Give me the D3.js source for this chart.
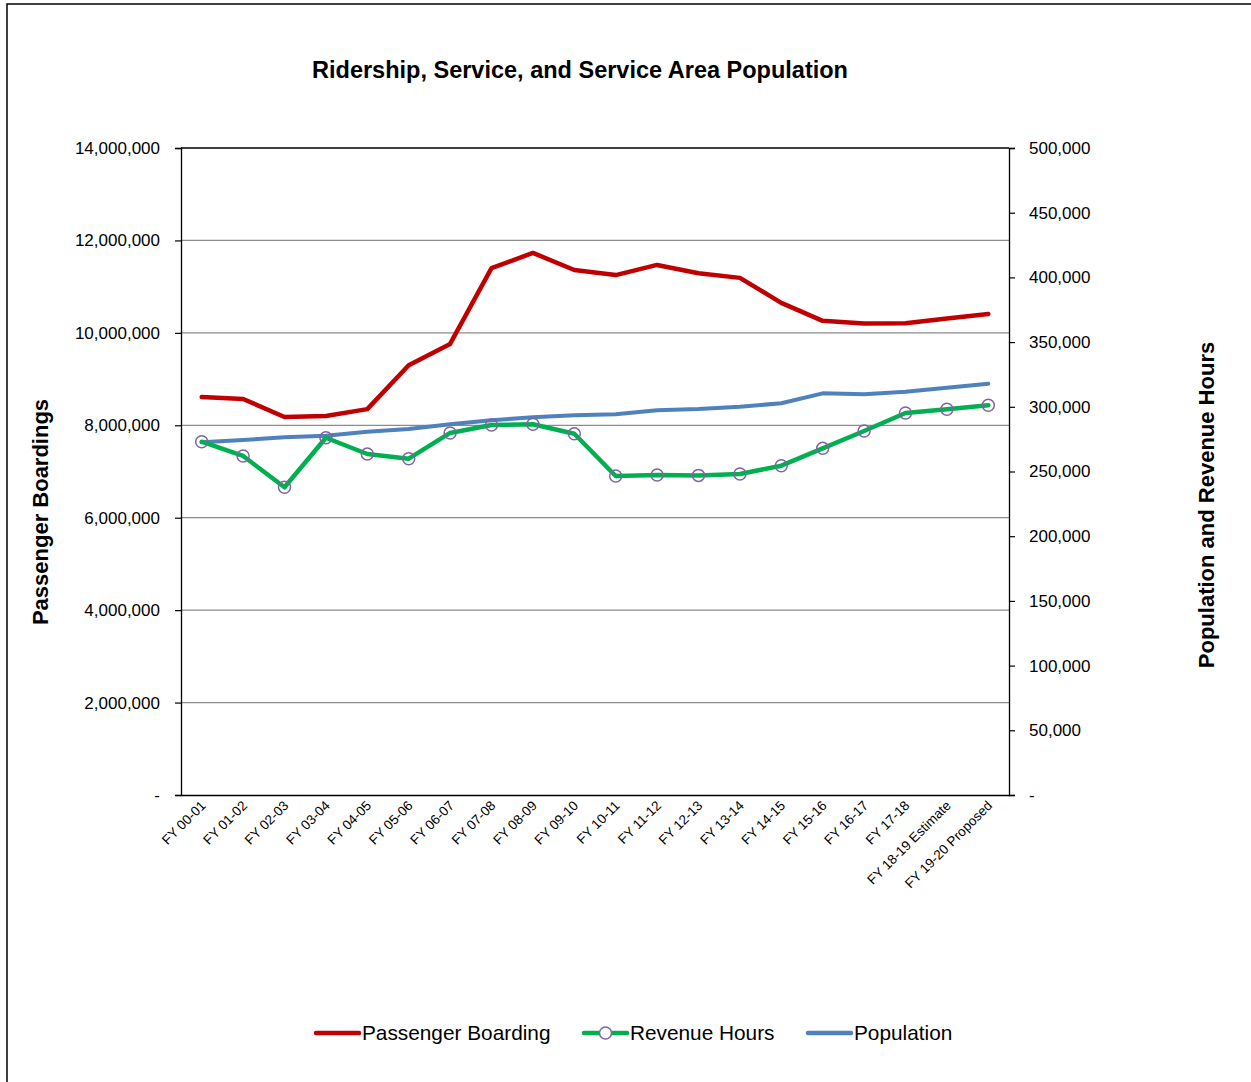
<!DOCTYPE html>
<html>
<head>
<meta charset="utf-8">
<script src="https://cdn.jsdelivr.net/npm/d3@7"></script>
<style>
  body { margin: 0; background: #fff; }
  text { font-family: "Liberation Sans", Arial, sans-serif; }
</style>
</head>
<body>
<div id="chart"></div>
<script>
var years = ["FY 00-01", "FY 01-02", "FY 02-03", "FY 03-04", "FY 04-05", "FY 05-06", "FY 06-07",
  "FY 07-08", "FY 08-09", "FY 09-10", "FY 10-11", "FY 11-12", "FY 12-13", "FY 13-14", "FY 14-15",
  "FY 15-16", "FY 16-17", "FY 17-18", "FY 18-19 Estimate", "FY 19-20 Proposed"];

var boardings = [8610000, 8570000, 8180000, 8200000, 8350000, 9300000, 9760000, 11400000, 11730000, 11360000,
  11250000, 11470000, 11290000, 11190000, 10650000, 10260000, 10200000, 10210000, 10310000, 10410000];

var revenueHours = [273000, 262000, 237800, 276100, 263500, 259900, 279800, 285900, 286500, 279200,
  246500, 247300, 247000, 248100, 254500, 267900, 281300, 295200, 298100, 301200];

var population = [272600, 274300, 276400, 277700, 280800, 282800, 286500, 289600, 291900, 293400,
  294200, 297300, 298300, 300100, 302700, 310400, 309700, 311700, 314800, 317900];

var leftTicks = [0, 2000000, 4000000, 6000000, 8000000, 10000000, 12000000, 14000000];
var rightTicks = [0, 50000, 100000, 150000, 200000, 250000, 300000, 350000, 400000, 450000, 500000];

var W = 1251, H = 1082;
var plot = {left: 181, right: 1009, top: 148, bottom: 795};

var svg = d3.select("#chart").append("svg")
  .attr("width", W)
  .attr("height", H);

// outer frame
svg.append("rect")
  .attr("x", 7).attr("y", 4)
  .attr("width", W + 20).attr("height", H + 20)
  .attr("fill", "#fff")
  .attr("stroke", "#000")
  .attr("stroke-width", 1.5);

var x = d3.scalePoint().domain(years).range([plot.left, plot.right]).padding(0.5);
var yL = d3.scaleLinear().domain([0, 14000000]).range([plot.bottom, plot.top]);
var yR = d3.scaleLinear().domain([0, 500000]).range([plot.bottom, plot.top]);

var fmt = function (d) { return d === 0 ? "-" : d3.format(",")(d); };

// gridlines
svg.append("g")
  .selectAll("line")
  .data(leftTicks.filter(function (d) { return d > 0 && d < 14000000; }))
  .join("line")
  .attr("x1", plot.left).attr("x2", plot.right)
  .attr("y1", function (d) { return yL(d); })
  .attr("y2", function (d) { return yL(d); })
  .attr("stroke", "#8c8c8c")
  .attr("stroke-width", 1.3);

svg.append("line")
  .attr("x1", plot.left).attr("x2", plot.right)
  .attr("y1", yL(14000000)).attr("y2", yL(14000000))
  .attr("stroke", "#000").attr("stroke-width", 1.3);

// axes
var gL = svg.append("g")
  .attr("transform", "translate(" + plot.left + ",0)")
  .call(d3.axisLeft(yL).tickValues(leftTicks).tickFormat(fmt).tickSize(6).tickPadding(15));

var gR = svg.append("g")
  .attr("transform", "translate(" + plot.right + ",0)")
  .call(d3.axisRight(yR).tickValues(rightTicks).tickFormat(fmt).tickSize(6).tickPadding(14));

var gX = svg.append("g")
  .attr("transform", "translate(0," + plot.bottom + ")")
  .call(d3.axisBottom(x).tickSize(0).tickPadding(0));

[gL, gR, gX].forEach(function (g) {
  g.select(".domain").attr("stroke", "#000").attr("stroke-width", 1.3);
  g.selectAll(".tick line").attr("stroke", "#000").attr("stroke-width", 1.2);
  g.selectAll("text").attr("fill", "#000")
    .style("font-family", "'Liberation Sans', Arial, sans-serif");
});
gL.selectAll("text").style("font-size", "17px");
gR.selectAll("text").style("font-size", "17px");

gX.selectAll(".tick text")
  .style("font-size", "13.5px")
  .attr("text-anchor", "end")
  .attr("dy", "0.35em")
  .attr("transform", "translate(1,8) rotate(-45)");

// series
var lineL = d3.line()
  .x(function (d, i) { return x(years[i]); })
  .y(function (d) { return yL(d); });

var lineR = d3.line()
  .x(function (d, i) { return x(years[i]); })
  .y(function (d) { return yR(d); });

svg.append("path")
  .datum(boardings)
  .attr("fill", "none")
  .attr("stroke", "#c00000")
  .attr("stroke-width", 4.5)
  .attr("stroke-linejoin", "round")
  .attr("stroke-linecap", "round")
  .attr("d", lineL);

svg.append("path")
  .datum(population)
  .attr("fill", "none")
  .attr("stroke", "#4f81bd")
  .attr("stroke-width", 4)
  .attr("stroke-linejoin", "round")
  .attr("stroke-linecap", "round")
  .attr("d", lineR);

svg.append("path")
  .datum(revenueHours)
  .attr("fill", "none")
  .attr("stroke", "#00b050")
  .attr("stroke-width", 4.5)
  .attr("stroke-linejoin", "round")
  .attr("stroke-linecap", "round")
  .attr("d", lineR);

svg.append("g")
  .selectAll("circle")
  .data(revenueHours)
  .join("circle")
  .attr("cx", function (d, i) { return x(years[i]); })
  .attr("cy", function (d) { return yR(d); })
  .attr("r", 6)
  .attr("fill", "none")
  .attr("stroke", "#8064a2")
  .attr("stroke-width", 1.5);

// titles
svg.append("text")
  .attr("x", 580).attr("y", 78)
  .attr("text-anchor", "middle")
  .style("font-size", "23.5px")
  .style("font-weight", "bold")
  .text("Ridership, Service, and Service Area Population");

svg.append("text")
  .attr("transform", "translate(48,512) rotate(-90)")
  .attr("text-anchor", "middle")
  .style("font-size", "22px")
  .style("font-weight", "bold")
  .text("Passenger Boardings");

svg.append("text")
  .attr("transform", "translate(1214,505) rotate(-90)")
  .attr("text-anchor", "middle")
  .style("font-size", "22px")
  .style("font-weight", "bold")
  .text("Population and Revenue Hours");

// legend
var legendItems = [
  {name: "Passenger Boarding", color: "#c00000", x: 316, marker: false},
  {name: "Revenue Hours", color: "#00b050", x: 584, marker: true},
  {name: "Population", color: "#4f81bd", x: 808, marker: false}
];

var lg = svg.append("g").selectAll("g")
  .data(legendItems)
  .join("g")
  .attr("transform", function (d) { return "translate(" + d.x + ",1033)"; });

lg.append("line")
  .attr("x1", 0).attr("x2", 43)
  .attr("stroke", function (d) { return d.color; })
  .attr("stroke-width", 4.5)
  .attr("stroke-linecap", "round");

lg.filter(function (d) { return d.marker; })
  .append("circle")
  .attr("cx", 21.5).attr("r", 6)
  .attr("fill", "#fff")
  .attr("stroke", "#8064a2")
  .attr("stroke-width", 1.5);

lg.append("text")
  .attr("x", 46).attr("y", 7)
  .style("font-size", "20.8px")
  .text(function (d) { return d.name; });
</script>
</body>
</html>
